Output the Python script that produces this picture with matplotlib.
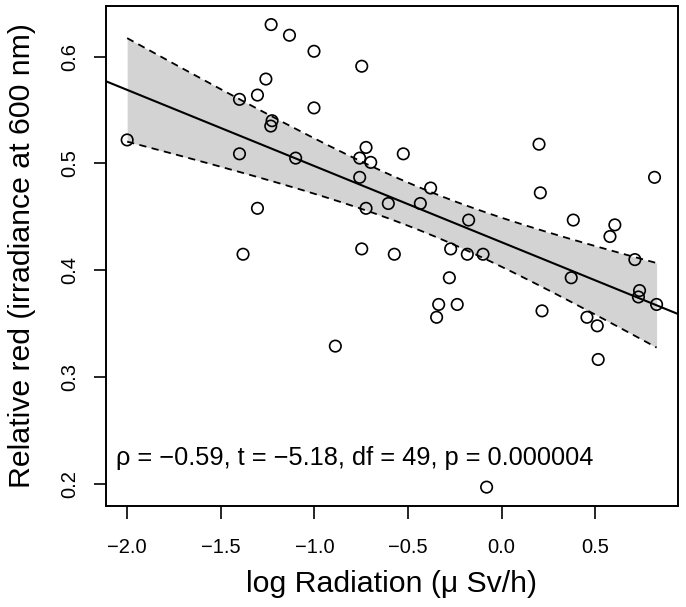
import matplotlib
matplotlib.use('Agg')
import matplotlib.pyplot as plt
import numpy as np

plt.rcParams['font.family'] = ['Liberation Sans', 'DejaVu Sans']

# log radiation (x) and relative red (y)
log_rad = [-2.000, -1.231, -1.133, -1.002, -0.747, -1.259, -1.304, -1.400, -1.002,
           -1.226, -1.233, -1.400, -1.100, -0.724, -0.758, -0.699, -0.758, -0.525,
           -0.605, -0.724, -1.304, -1.381, -0.747, -0.573, 0.200, 0.817, -0.379,
           0.207, -0.434, -0.176, 0.383, 0.605, 0.579, -0.272, -0.183, -0.099,
           0.712, -0.279, 0.372, 0.737, 0.731, 0.828, -0.336, -0.347, -0.237,
           0.216, 0.456, 0.511, 0.516, -0.080, -0.888]
rel_red = [0.522, 0.630, 0.620, 0.605, 0.591, 0.579, 0.564, 0.560, 0.552,
           0.540, 0.535, 0.509, 0.505, 0.515, 0.505, 0.501, 0.487, 0.509,
           0.4625, 0.458, 0.458, 0.415, 0.420, 0.415, 0.518, 0.487, 0.477,
           0.4725, 0.4625, 0.447, 0.447, 0.4425, 0.4316, 0.420, 0.415, 0.415,
           0.410, 0.393, 0.393, 0.381, 0.375, 0.368, 0.368, 0.356, 0.368,
           0.362, 0.356, 0.348, 0.3165, 0.197, 0.329]

stats_text = 'ρ = −0.59, t = −5.18, df = 49, p = 0.000004'
x_ticks = [-2.0, -1.5, -1.0, -0.5, 0.0, 0.5]
y_ticks = [0.2, 0.3, 0.4, 0.5, 0.6]

x = np.array(log_rad)
y = np.array(rel_red)
n = len(x)

# linear fit and 95% confidence band of the mean
slope, intercept = np.polyfit(x, y, 1)
resid = y - (intercept + slope * x)
s = np.sqrt(np.sum(resid ** 2) / (n - 2))
t_crit = 2.0096  # t quantile, df = 49
xg = np.linspace(x.min(), x.max(), 200)
fit = intercept + slope * xg
se = s * np.sqrt(1 / n + (xg - x.mean()) ** 2 / np.sum((x - x.mean()) ** 2))
upper = fit + t_crit * se
lower = fit - t_crit * se

fig = plt.figure(figsize=(6.86, 6.07), dpi=100)
ax = fig.add_axes([0.1545, 0.167, 0.8335, 0.823])

ax.fill_between(xg, lower, upper, color='#d3d3d3', lw=0, zorder=1)
ax.plot(xg, upper, color='black', lw=1.3, ls=(0, (4, 3)), zorder=2)
ax.plot(xg, lower, color='black', lw=1.3, ls=(0, (4, 3)), zorder=2)

xr = x.max() - x.min()
yr = y.max() - y.min()
xlim = (x.min() - 0.04 * xr, x.max() + 0.04 * xr)
ylim = (y.min() - 0.04 * yr, y.max() + 0.04 * yr)
xl = np.array(xlim)
ax.plot(xl, intercept + slope * xl, color='black', lw=1.5, zorder=3)

ax.scatter(x, y, s=68, facecolors='none', edgecolors='black', linewidths=1.2, zorder=4)

ax.set_xlim(xlim)
ax.set_ylim(ylim)
ax.set_xticks(x_ticks)
ax.set_xticklabels([f'{v:.1f}'.replace('-', '−') for v in x_ticks])
ax.set_yticks(y_ticks)
ax.set_yticklabels([f'{v:.1f}' for v in y_ticks], rotation=90, va='center')
ax.tick_params(direction='out', length=9, width=1.2, labelsize=14.5)
ax.tick_params(axis='x', pad=14)
ax.tick_params(axis='y', pad=10)
for sp in ax.spines.values():
    sp.set_linewidth(1.4)

ax.set_xlabel('log Radiation (μ Sv/h)', fontsize=21.8, labelpad=10)
ax.set_ylabel('Relative red (irradiance at 600 nm)', fontsize=21.8, labelpad=18)

ax.text(0.017, 0.081, stats_text, transform=ax.transAxes, fontsize=18.3,
        ha='left', va='baseline')

fig.savefig('out.png', dpi=100)
